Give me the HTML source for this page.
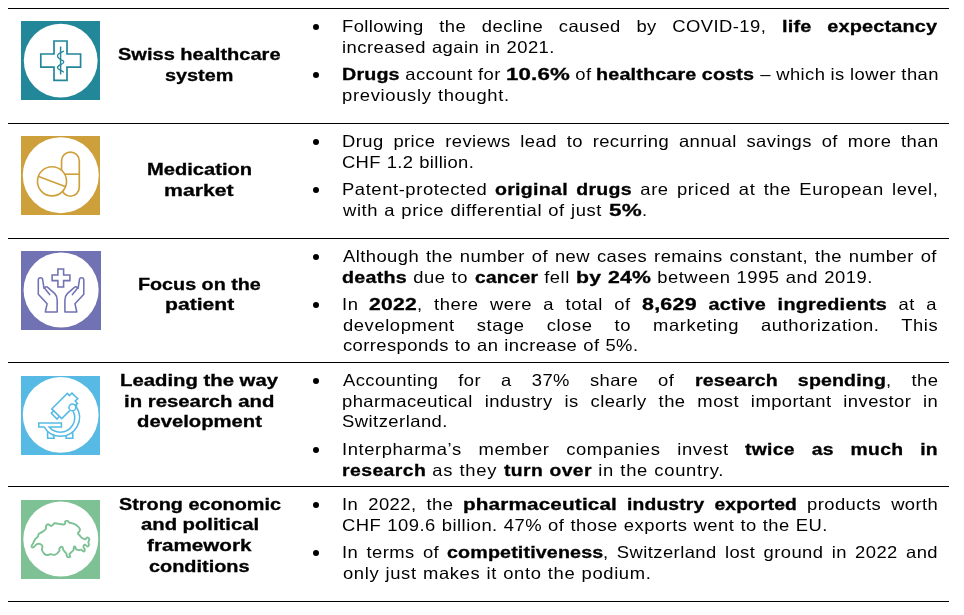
<!DOCTYPE html>
<html><head><meta charset="utf-8"><title>Key figures</title>
<style>
html,body{margin:0;padding:0;background:#fff}
body{width:964px;height:615px;position:relative;overflow:hidden;font-family:"Liberation Sans",sans-serif;font-size:16.5px;line-height:21px;color:#000}
.hr{position:absolute;left:8px;width:941px;height:1px;background:#000}
span.r,span.b{position:absolute;white-space:pre;transform-origin:0 50%;height:21px}
span.r{letter-spacing:0.25px;transform:scaleX(1.115)}
span.b{font-weight:bold;-webkit-text-stroke:0.3px #000;letter-spacing:0.0px;transform:scaleX(1.2)}
#t{position:absolute;left:0;top:0;width:964px;height:615px;will-change:transform}
.bu{position:absolute;left:312.6px;width:6.4px;height:6.4px;border-radius:50%;background:#000}
.ic{position:absolute;left:21px;width:79px;height:79px}
.ic svg{position:absolute;left:0;top:0;overflow:visible}
</style></head><body>
<div class="hr" style="top:8px"></div><div class="hr" style="top:123px"></div><div class="hr" style="top:238px"></div><div class="hr" style="top:362px"></div><div class="hr" style="top:486px"></div><div class="hr" style="top:601px"></div>
<div class="ic" style="top:21px;background:#228799"><svg width="79" height="79" viewBox="0 0 79 79"><circle cx="39.7" cy="39.6" r="36.9" fill="#fff"/><g fill="none" stroke="#228799" stroke-width="1.7"><path d="M33 20H46V33H59.6V46.2H46V59.4H33V46.2H19.8V33H33Z"/><path d="M39.6 25.5V53.5" stroke-width="1.45"/><path d="M42.9 30.1C38 32 36.3 33.2 36.5 35.1C36.8 37.3 38.5 38 39.6 38.6C41.5 39.4 42.9 39.8 42.8 41C42.6 42.6 41 43 39.6 43.6C38 44.3 36.4 45 36.5 46.5C36.7 48.3 38.5 48.6 39.6 49.1L42.8 51.3" stroke-width="1.35"/></g></svg></div>
<div class="ic" style="top:136px;background:#cea03b"><svg width="79" height="79" viewBox="0 0 79 79"><circle cx="39.8" cy="39.2" r="38" fill="#fff"/><g fill="none" stroke="#cea03b" stroke-width="1.65"><rect x="40.55" y="16.1" width="17.75" height="44.1" rx="8.87"/><path d="M41 38.2H58.3"/><circle cx="31" cy="45.3" r="14.55" fill="#fff"/><path d="M17.7 40.4L44.1 50.5"/></g></svg></div>
<div class="ic" style="top:251px;width:80px;background:#7072b3"><svg width="80" height="79" viewBox="0 0 80 79"><circle cx="40.1" cy="39" r="37.55" fill="#fff"/><g fill="none" stroke="#7072b3" stroke-width="1.55" stroke-linejoin="round" stroke-linecap="round"><path d="M36.9 18H42.6V24.05H48.9V29.6H42.6V35.9H36.9V29.6H31.1V24.05H36.9Z" stroke-linejoin="miter"/><path id="hand" d="M28.7 43.6L24.2 38C23.4 36.6 24.6 35.6 25.6 35.8C26.2 35.9 26.6 36.3 27 36.7L33.8 42.6C35.6 44.4 36.2 46.5 36.2 49.3V61H24.3L26.1 52.8L17.3 43.2V29A2.2 2.2 0 0 1 21.7 29L23 37.3"/><path d="M28.7 43.6L24.2 38C23.4 36.6 24.6 35.6 25.6 35.8C26.2 35.9 26.6 36.3 27 36.7L33.8 42.6C35.6 44.4 36.2 46.5 36.2 49.3V61H24.3L26.1 52.8L17.3 43.2V29A2.2 2.2 0 0 1 21.7 29L23 37.3" transform="translate(80.1 0) scale(-1 1)"/></g></svg></div>
<div class="ic" style="top:376px;background:#57bae4"><svg width="79" height="79" viewBox="0 0 79 79"><circle cx="39.7" cy="38.9" r="37.9" fill="#fff"/><g fill="none" stroke="#57bae4" stroke-width="1.55" stroke-linejoin="miter"><path d="M54.3 29.2L56.5 27.4L54.2 25L56.8 22.7L50.95 17.1L48.3 19.6L46.3 17.4L30.75 32.9L40.7 42.6L48.7 34.6"/><path d="M32.5 34.8L30.3 37.3L36 43.1L38.25 40.5"/><circle cx="51.4" cy="31.4" r="3.4"/><path d="M55.6 28.4L55.4 31A18.94 18.94 0 0 1 39.53 60.31A18.94 18.94 0 0 1 23.27 51.08H17.76V46.9H40.4V51.08H28.11A14.52 14.52 0 0 0 39.15 56.17A14.52 14.52 0 0 0 52.09 35.06"/><path d="M26.61 55.3V62.27H33.12L32.34 58.9"/><path d="M45.35 59.4L45.09 62.27H51.86L51.6 56"/></g></svg></div>
<div class="ic" style="top:500px;background:#7dc195"><svg width="79" height="79" viewBox="0 0 79 79"><circle cx="39.8" cy="39.05" r="37.5" fill="#fff"/><g transform="translate(6.9 11.9) scale(0.09103)" fill="none" stroke="#7dc195" stroke-width="21" stroke-linejoin="round" stroke-linecap="round"><path d="M40 380C40 370 52 356 60 340C68 324 70 314 80 300C90 286 102 282 110 270C118 258 112 249 120 240C128 231 135 235 150 225C165 215 185 204 195 190C205 176 195 166 200 155C205 144 209 135 220 135C231 135 244 154 255 155C266 156 267 146 275 140C283 134 284 127 295 125C306 123 317 128 330 130C343 132 345 134 360 135C375 136 395 141 405 135C415 129 404 112 410 105C416 98 425 97 435 100C445 103 449 115 460 120C471 125 476 120 490 125C504 130 514 133 530 145C546 157 563 171 570 185C577 199 569 205 565 215C561 225 549 226 550 235C551 244 560 249 570 260C580 271 588 282 600 290C612 298 619 302 630 300C641 298 646 280 655 280C664 280 673 290 675 300C677 310 666 317 665 330C664 343 672 355 670 365C668 375 664 381 655 380C646 379 634 359 625 360C616 361 610 374 610 385C610 396 625 405 625 415C625 425 618 435 610 435C602 435 595 418 585 415C575 412 571 421 560 420C549 419 538 417 530 410C522 403 525 390 520 385C515 380 509 378 505 385C501 392 507 407 500 420C493 433 479 441 470 450C461 459 456 457 455 465C454 473 466 483 465 490C464 497 457 500 450 500C443 500 436 499 430 490C424 481 428 469 420 455C412 441 398 434 390 420C382 406 385 392 380 385C375 378 372 381 365 385C358 389 349 396 345 405C341 414 354 417 345 430C336 443 319 463 300 470C281 477 268 464 250 465C232 466 224 476 210 475C196 474 191 471 180 460C169 449 159 436 155 420C151 404 163 393 160 380C157 367 150 361 140 355C130 349 121 348 110 350C99 352 95 357 85 365C75 373 69 387 60 390C51 393 40 390 40 380Z"/></g></svg></div>

<div id="t">
<i class="bu" style="top:24.00px"></i><i class="bu" style="top:71.90px"></i><i class="bu" style="top:139.00px"></i><i class="bu" style="top:186.90px"></i><i class="bu" style="top:254.00px"></i><i class="bu" style="top:301.90px"></i><i class="bu" style="top:378.00px"></i><i class="bu" style="top:447.00px"></i><i class="bu" style="top:502.00px"></i><i class="bu" style="top:549.90px"></i>
<span class="b" style="left:117.92px;top:44.18px;transform:scaleX(1.2140)">Swiss healthcare</span>
<span class="b" style="left:165.30px;top:64.88px;transform:scaleX(1.2013)">system</span>
<span class="b" style="left:146.85px;top:159.18px;transform:scaleX(1.2194)">Medication</span>
<span class="b" style="left:164.20px;top:179.88px;transform:scaleX(1.2870)">market</span>
<span class="b" style="left:137.88px;top:273.78px;transform:scaleX(1.1960)">Focus on the</span>
<span class="b" style="left:164.61px;top:294.48px;transform:scaleX(1.2802)">patient</span>
<span class="b" style="left:120.04px;top:369.78px;transform:scaleX(1.2307)">Leading the way</span>
<span class="b" style="left:124.18px;top:390.58px;transform:scaleX(1.2326)">in research and</span>
<span class="b" style="left:136.87px;top:411.28px;transform:scaleX(1.2279)">development</span>
<span class="b" style="left:118.83px;top:493.78px;transform:scaleX(1.2017)">Strong economic</span>
<span class="b" style="left:140.61px;top:514.48px;transform:scaleX(1.2271)">and political</span>
<span class="b" style="left:147.05px;top:535.18px;transform:scaleX(1.2514)">framework</span>
<span class="b" style="left:148.92px;top:555.88px;transform:scaleX(1.2058)">conditions</span>
<span class="r" style="left:341.79px;top:15.88px;letter-spacing:0.385px;word-spacing:9.100px">Following the decline caused by COVID-19, </span>
<span class="b" style="left:781.66px;top:15.88px;transform:scaleX(1.208);letter-spacing:0.124px;word-spacing:8.397px">life expectancy</span>
<span class="r" style="left:342.07px;top:36.68px;letter-spacing:0.407px;word-spacing:0.448px">increased again in 2021.</span>
<span class="b" style="left:341.98px;top:63.78px;transform:scaleX(1.194);letter-spacing:0.126px;word-spacing:-0.244px">Drugs</span>
<span class="r" style="left:399.66px;top:63.78px;letter-spacing:0.385px;word-spacing:-0.261px"> account for </span>
<span class="b" style="left:505.61px;top:63.78px;transform:scaleX(1.350);letter-spacing:0.111px;word-spacing:-0.216px">10.6%</span>
<span class="r" style="left:569.56px;top:63.78px;letter-spacing:0.385px;word-spacing:-0.261px"> of </span>
<span class="b" style="left:596.26px;top:63.78px;transform:scaleX(1.199);letter-spacing:0.125px;word-spacing:-0.243px">healthcare costs</span>
<span class="r" style="left:754.51px;top:63.78px;letter-spacing:0.385px;word-spacing:-0.261px"> – which is lower than</span>
<span class="r" style="left:342.11px;top:84.68px;letter-spacing:0.609px;word-spacing:0.448px">previously thought.</span>
<span class="r" style="left:341.79px;top:130.88px;letter-spacing:0.385px;word-spacing:3.811px">Drug price reviews lead to recurring annual savings of more than</span>
<span class="r" style="left:342.37px;top:151.68px;letter-spacing:0.298px;word-spacing:0.448px">CHF 1.2 billion.</span>
<span class="r" style="left:341.79px;top:178.78px;letter-spacing:0.519px;word-spacing:2.357px">Patent-protected </span>
<span class="b" style="left:495.39px;top:178.78px;transform:scaleX(1.183);letter-spacing:0.254px;word-spacing:2.222px">original drugs</span>
<span class="r" style="left:632.36px;top:178.78px;letter-spacing:0.519px;word-spacing:2.357px"> are priced at the European level,</span>
<span class="r" style="left:343.33px;top:199.68px;letter-spacing:0.533px;word-spacing:0.448px">with a price differential of just </span>
<span class="b" style="left:608.54px;top:199.68px;transform:scaleX(1.361);letter-spacing:0.232px;word-spacing:0.367px">5%</span>
<span class="r" style="left:641.64px;top:199.68px;letter-spacing:0.533px;word-spacing:0.448px">.</span>
<span class="r" style="left:343.26px;top:245.88px;letter-spacing:0.385px;word-spacing:1.273px">Although the number of new cases remains constant, the number of</span>
<span class="b" style="left:342.49px;top:266.68px;transform:scaleX(1.193);letter-spacing:0.213px;word-spacing:0.419px">deaths</span>
<span class="r" style="left:407.46px;top:266.68px;letter-spacing:0.477px;word-spacing:0.448px"> due to </span>
<span class="b" style="left:474.60px;top:266.68px;transform:scaleX(1.161);letter-spacing:0.219px;word-spacing:0.431px">cancer</span>
<span class="r" style="left:537.89px;top:266.68px;letter-spacing:0.477px;word-spacing:0.448px"> fell </span>
<span class="b" style="left:575.83px;top:266.68px;transform:scaleX(1.287);letter-spacing:0.197px;word-spacing:0.389px">by 24%</span>
<span class="r" style="left:651.04px;top:266.68px;letter-spacing:0.477px;word-spacing:0.448px"> between 1995 and 2019.</span>
<span class="r" style="left:341.60px;top:293.78px;letter-spacing:0.474px;word-spacing:5.148px">In </span>
<span class="b" style="left:369.40px;top:293.78px;transform:scaleX(1.278);letter-spacing:0.196px;word-spacing:4.491px">2022</span>
<span class="r" style="left:417.32px;top:293.78px;letter-spacing:0.474px;word-spacing:5.148px">, there were a total of </span>
<span class="b" style="left:642.40px;top:293.78px;transform:scaleX(1.297);letter-spacing:0.193px;word-spacing:4.424px">8,629</span>
<span class="b" style="left:697.22px;top:293.78px;transform:scaleX(1.200);letter-spacing:0.208px;word-spacing:4.785px"> active ingredients</span>
<span class="r" style="left:887.25px;top:293.78px;letter-spacing:0.474px;word-spacing:5.148px"> at a</span>
<span class="r" style="left:342.53px;top:314.68px;letter-spacing:0.519px;word-spacing:14.639px">development stage close to marketing authorization. This</span>
<span class="r" style="left:342.52px;top:335.48px;letter-spacing:0.373px;word-spacing:0.448px">corresponds to an increase of 5%.</span>
<span class="r" style="left:343.26px;top:369.88px;letter-spacing:0.385px;word-spacing:12.977px">Accounting for a 37% share of </span>
<span class="b" style="left:694.53px;top:369.88px;transform:scaleX(1.186);letter-spacing:0.126px;word-spacing:12.200px">research spending</span>
<span class="r" style="left:885.58px;top:369.88px;letter-spacing:0.385px;word-spacing:12.977px">, the</span>
<span class="r" style="left:342.11px;top:390.68px;letter-spacing:0.385px;word-spacing:5.717px">pharmaceutical industry is clearly the most important investor in</span>
<span class="r" style="left:342.46px;top:411.38px;letter-spacing:0.425px;word-spacing:0.448px">Switzerland.</span>
<span class="r" style="left:341.60px;top:438.88px;letter-spacing:0.519px;word-spacing:9.975px">Interpharma’s member companies invest </span>
<span class="b" style="left:745.18px;top:438.88px;transform:scaleX(1.172);letter-spacing:0.256px;word-spacing:9.490px">twice as much in</span>
<span class="b" style="left:342.02px;top:459.68px;transform:scaleX(1.175);letter-spacing:0.359px;word-spacing:0.426px">research</span>
<span class="r" style="left:426.23px;top:459.68px;letter-spacing:0.628px;word-spacing:0.448px"> as they </span>
<span class="b" style="left:503.58px;top:459.68px;transform:scaleX(1.170);letter-spacing:0.360px;word-spacing:0.427px">turn over</span>
<span class="r" style="left:591.54px;top:459.68px;letter-spacing:0.628px;word-spacing:0.448px"> in the country.</span>
<span class="r" style="left:341.60px;top:493.88px;letter-spacing:0.385px;word-spacing:4.069px">In 2022, the </span>
<span class="b" style="left:463.09px;top:493.88px;transform:scaleX(1.255);letter-spacing:0.120px;word-spacing:3.617px">pharmaceutical</span>
<span class="b" style="left:617.07px;top:493.88px;transform:scaleX(1.169);letter-spacing:0.128px;word-spacing:3.882px"> industry exported</span>
<span class="r" style="left:797.08px;top:493.88px;letter-spacing:0.385px;word-spacing:4.069px"> products worth</span>
<span class="r" style="left:342.37px;top:514.68px;letter-spacing:0.421px;word-spacing:0.448px">CHF 109.6 billion. 47% of those exports went to the EU.</span>
<span class="r" style="left:341.60px;top:541.78px;letter-spacing:0.385px;word-spacing:2.448px">In terms of </span>
<span class="b" style="left:446.96px;top:541.78px;transform:scaleX(1.192);letter-spacing:0.126px;word-spacing:2.289px">competitiveness</span>
<span class="r" style="left:603.38px;top:541.78px;letter-spacing:0.385px;word-spacing:2.448px">, Switzerland lost ground in 2022 and</span>
<span class="r" style="left:342.53px;top:562.68px;letter-spacing:0.568px;word-spacing:0.448px">only just makes it onto the podium.</span>
</div>
</body></html>
